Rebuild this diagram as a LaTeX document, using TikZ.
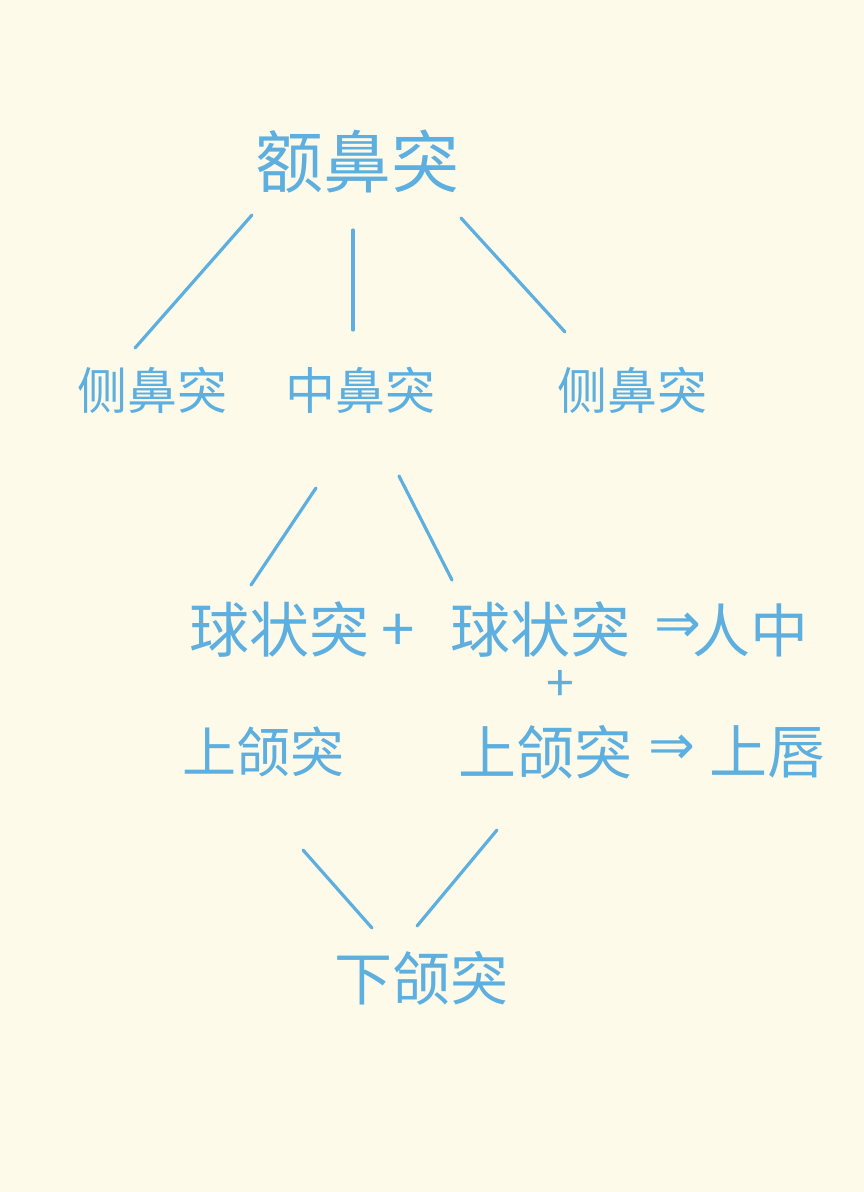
\documentclass[tikz,border=0pt]{standalone}
\usepackage{fontspec}
\newfontfamily\cjk{Noto Sans CJK SC}[Scale=1]
\newfontfamily\dv{DejaVu Sans}
\definecolor{ink}{HTML}{5DAFE0}
\definecolor{paper}{HTML}{FEFAEA}
\begin{document}
\begin{tikzpicture}[x=1pt,y=-1pt,
  lbl/.style={text=ink,inner sep=0pt,font=\cjk\fontsize{#1}{#1}\selectfont},
  lbl/.default=54,
  arr/.style={text=ink,inner sep=0pt,font=\dv\fontsize{56}{56}\selectfont},
  edge/.style={draw=ink,line width=3.2pt,line cap=round}]
\fill[paper] (0,0) rectangle (864,1192);
\useasboundingbox (0,0) rectangle (864,1192);
% top
\node[lbl=68] (top) at (357,162) {额鼻突};
\node[lbl=50] (ls) at (152,390) {侧鼻突};
\node[lbl=50] (mid) at (360,390) {中鼻突};
\node[lbl=50] (rs) at (632,390) {侧鼻突};
\coordinate (t1) at (252,215); \coordinate (l1) at (135,348);
\coordinate (t2) at (353,230); \coordinate (m2) at (353,330);
\coordinate (t3) at (461,218); \coordinate (r3) at (565,332);
\draw[edge] (t1) -- (l1);
\draw[edge] (t2) -- (m2);
\draw[edge] (t3) -- (r3);
% middle
\node[lbl=60] (qa) at (279,630) {球状突};
\node[lbl=60] (pa) at (398,633) {+};
\node[lbl=60] (qb) at (540,630) {球状突};
\node[arr] (arra) at (678,628) {⇒};
\node[lbl=58] (rz) at (750,630) {人中};
\node[lbl=50] (pb) at (560,686) {+};
\node[lbl=54] (sa) at (263,752) {上颌突};
\node[lbl=58] (sb) at (545,752) {上颌突};
\node[arr] (arrb) at (672,750) {⇒};
\node[lbl=58] (sc) at (767,752) {上唇};
\coordinate (m4) at (316,488); \coordinate (q4) at (251,585);
\coordinate (m5) at (399,476); \coordinate (q5) at (452,580);
\draw[edge] (m4) -- (q4);
\draw[edge] (m5) -- (q5);
% bottom
\node[lbl=58] (low) at (421,978) {下颌突};
\coordinate (s6) at (303,850); \coordinate (b6) at (372,928);
\coordinate (s7) at (497,830); \coordinate (b7) at (417,926);
\draw[edge] (s6) -- (b6);
\draw[edge] (s7) -- (b7);
\end{tikzpicture}
\end{document}
